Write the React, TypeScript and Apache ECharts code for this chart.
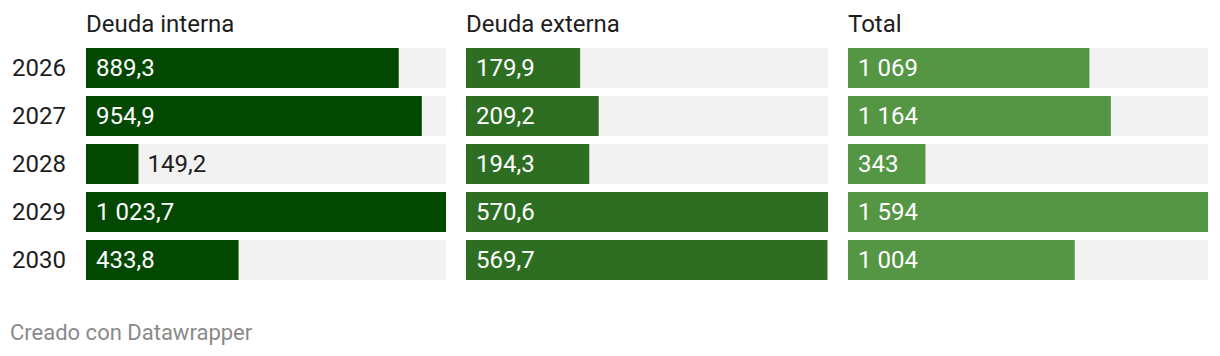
import React, { useEffect, useRef } from "react";
import * as echarts from "echarts";

const years = ["2026", "2027", "2028", "2029", "2030"];
const titles = ["Deuda interna", "Deuda externa", "Total"];
const deudaInterna = [889.3, 954.9, 149.2, 1023.7, 433.8];
const deudaExterna = [179.9, 209.2, 194.3, 570.6, 569.7];
const total = [1069, 1164, 343, 1594, 1004];
const decimals = [1, 1, 0];
const colors = ["#034801", "#2d6e22", "#559645"];
const footer = "Creado con Datawrapper";

const FONT = "Roboto, 'Noto Sans', sans-serif";

function fmt(v: number, d: number): string {
  const s = v.toFixed(d);
  const [ip, dp] = s.split(".");
  const withSep = ip.replace(/\B(?=(\d{3})+(?!\d))/g, " ");
  return dp ? withSep + "," + dp : withSep;
}

export default function App() {
  const ref = useRef<HTMLDivElement>(null);
  useEffect(() => {
    if (!ref.current) return;
    const chart = echarts.init(ref.current, undefined, { renderer: "svg" });
    const panels = [deudaInterna, deudaExterna, total];
    const lefts = [86, 466, 848];
    const widths = [360, 362, 360];
    const grids = panels.map((_, i) => ({
      left: lefts[i],
      top: 44,
      width: widths[i],
      height: 240,
      containLabel: false,
    }));
    const xAxes = panels.map((vals, i) => ({
      type: "value",
      gridIndex: i,
      min: 0,
      max: Math.max(...vals),
      show: false,
    }));
    const yAxes = panels.map((_, i) => ({
      type: "category",
      gridIndex: i,
      data: years,
      inverse: true,
      axisLine: { show: false },
      axisTick: { show: false },
      axisLabel: {
        show: i === 0,
        margin: 20,
        color: "#1d1d1d",
        fontSize: 24,
        fontFamily: FONT,
      },
    }));
    const series = panels.map((vals, i) => {
      const max = Math.max(...vals);
      return {
        type: "bar",
        xAxisIndex: i,
        yAxisIndex: i,
        barWidth: 40,
        showBackground: true,
        backgroundStyle: { color: "#f2f2f2" },
        itemStyle: { color: colors[i] },
        data: vals.map((v) => {
          const small = v / max < 0.2;
          return {
            value: v,
            label: small
              ? {
                  show: true,
                  position: "right",
                  distance: 9,
                  color: "#1d1d1d",
                }
              : {
                  show: true,
                  position: [10, "50%"],
                  align: "left",
                  verticalAlign: "middle",
                  color: "#ffffff",
                },
          };
        }),
        label: {
          show: true,
          fontSize: 24,
          fontFamily: FONT,
          formatter: (p: any) => fmt(p.value, decimals[i]),
        },
      };
    });
    const graphic: any[] = titles.map((t, i) => ({
      type: "text",
      left: lefts[i],
      top: 12,
      style: {
        text: t,
        fill: "#1d1d1d",
        fontSize: 24,
        fontFamily: FONT,
      },
    }));
    graphic.push({
      type: "text",
      left: 10,
      top: 321,
      style: {
        text: footer,
        fill: "#8a8a8a",
        fontSize: 22,
        fontFamily: FONT,
      },
    });
    chart.setOption({
      animation: false,
      backgroundColor: "#ffffff",
      grid: grids,
      xAxis: xAxes,
      yAxis: yAxes,
      series,
      graphic,
    } as any);
    return () => chart.dispose();
  }, []);
  return (
    <div
      ref={ref}
      style={{ position: "absolute", left: 0, top: 0, width: 1220, height: 356 }}
    />
  );
}
